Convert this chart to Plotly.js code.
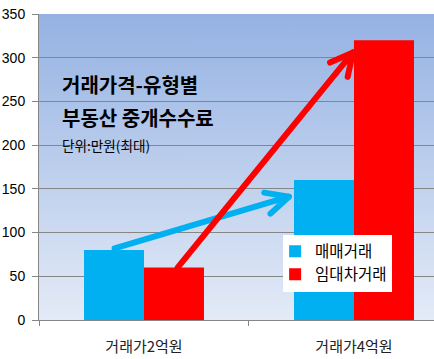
<!DOCTYPE html>
<html>
<head>
<meta charset="utf-8">
<script src="https://cdn.plot.ly/plotly-3.0.1.min.js"></script>
<style>html,body{margin:0;padding:0;background:#fff;}#chart{width:434px;height:359px;}</style>
</head>
<body>
<div id="chart"></div>
<script>
// ---- data ----
const categories = ['거래가2억원', '거래가4억원'];
const seriesNames = ['매매거래', '임대차거래'];
const saleValues = [80, 160];
const leaseValues = [60, 320];
const yTicks = [0, 50, 100, 150, 200, 250, 300, 350];
// arrow endpoints (category-index x, value y): [tail, tip]
const saleArrowX = [-0.14, 0.69];
const saleArrowY = [82, 141];
const leaseArrowX = [0.16, 0.995];
const leaseArrowY = [60, 306];

// ---- layout constants ----
const W = 434, H = 359;
const M = {l: 39, r: 0, t: 14, b: 39};
const xr = [-0.5, 1.381];
const yr = [0, 350];
const font = '"Noto Sans CJK KR", sans-serif';

// gradient background image
const cv = document.createElement('canvas');
cv.width = 4; cv.height = 256;
const cx = cv.getContext('2d');
const g = cx.createLinearGradient(0, 0, 0, 256);
g.addColorStop(0, '#95B2E3');
g.addColorStop(1, '#E4EBF7');
cx.fillStyle = g; cx.fillRect(0, 0, 4, 256);
const bgURL = cv.toDataURL('image/png');

// build arrow polyline (shaft + open chevron) in data units using axis scales
const pxX = (W - M.l - M.r) / (xr[1] - xr[0]);
const pxY = (H - M.t - M.b) / (yr[1] - yr[0]);
function arrowPath(xs, ys, armLen, halfAngleDeg) {
  const dxp = (xs[0] - xs[1]) * pxX, dyp = (ys[0] - ys[1]) * pxY; // back direction (px, y up)
  const ang = Math.atan2(dyp, dxp);
  const h = halfAngleDeg * Math.PI / 180;
  const arm = s => [xs[1] + Math.cos(ang + s * h) * armLen / pxX, ys[1] + Math.sin(ang + s * h) * armLen / pxY];
  const a1 = arm(1), a2 = arm(-1);
  return {x: [xs[0], xs[1], a1[0], null, xs[1], a2[0]], y: [ys[0], ys[1], a1[1], null, ys[1], a2[1]]};
}
const saleArrow = arrowPath(saleArrowX, saleArrowY, 25, 26);
const leaseArrow = arrowPath(leaseArrowX, leaseArrowY, 25, 27);

const traces = [
  {type: 'bar', name: seriesNames[0], x: categories, y: saleValues, marker: {color: '#00B0F0'}, hoverinfo: 'none'},
  {type: 'bar', name: seriesNames[1], x: categories, y: leaseValues, marker: {color: '#FF0000'}, hoverinfo: 'none'},
  {type: 'scatter', mode: 'lines', xaxis: 'x2', x: saleArrow.x, y: saleArrow.y, connectgaps: false,
   showlegend: false, hoverinfo: 'none', line: {color: '#00B0F0', width: 6}, cliponaxis: false},
  {type: 'scatter', mode: 'lines', xaxis: 'x2', x: leaseArrow.x, y: leaseArrow.y, connectgaps: false,
   showlegend: false, hoverinfo: 'none', line: {color: '#FF0000', width: 6}, cliponaxis: false}
];

const layout = {
  width: W, height: H,
  margin: M,
  paper_bgcolor: '#ffffff',
  plot_bgcolor: 'rgba(0,0,0,0)',
  barmode: 'group',
  bargap: 0.4286,
  bargroupgap: 0,
  showlegend: true,
  legend: {
    x: 0.618, y: 0.279, xanchor: 'left', yanchor: 'top',
    bgcolor: '#ffffff', borderwidth: 0,
    font: {family: font, size: 15.5, color: '#000'},
    itemwidth: 30, tracegroupgap: 0, indentation: -8
  },
  xaxis: {
    type: 'category', range: xr, showgrid: false,
    showline: true, linecolor: '#868686', linewidth: 1,
    ticks: 'outside', tickson: 'boundaries', ticklen: 5, tickcolor: '#868686', ticklabelstandoff: 13,
    tickfont: {family: font, size: 15, color: '#222'},
    fixedrange: true
  },
  xaxis2: {overlaying: 'x', range: xr, visible: false, fixedrange: true},
  yaxis: {
    range: yr, tickvals: yTicks, ticktext: yTicks.map(String),
    showgrid: true, gridcolor: '#868686', gridwidth: 1,
    showline: true, linecolor: '#868686', linewidth: 1,
    ticks: 'outside', ticklen: 6, tickcolor: '#868686', ticklabelstandoff: 4,
    tickfont: {family: 'Liberation Sans, Arial, sans-serif', size: 14, color: '#000'},
    zeroline: false, fixedrange: true
  },
  images: [{source: bgURL, xref: 'paper', yref: 'paper', x: 0, y: 1, sizex: 1, sizey: 1,
            xanchor: 'left', yanchor: 'top', sizing: 'stretch', layer: 'below'}],
  annotations: [
    {text: '<b>거래가격-유형별</b>', xref: 'paper', yref: 'paper', x: 0.053, y: 0.768, xanchor: 'left', yanchor: 'middle',
     showarrow: false, font: {family: font, size: 20, color: '#000'}},
    {text: '<b>부동산 중개수수료</b>', xref: 'paper', yref: 'paper', x: 0.053, y: 0.663, xanchor: 'left', yanchor: 'middle',
     showarrow: false, font: {family: font, size: 20, color: '#000'}},
    {text: '단위:만원(최대)', xref: 'paper', yref: 'paper', x: 0.053, y: 0.572, xanchor: 'left', yanchor: 'middle',
     showarrow: false, font: {family: font, size: 13.6, color: '#000'}}
  ]
};

Plotly.newPlot('chart', traces, layout, {displayModeBar: false, staticPlot: true}).then(gd => {
  gd.querySelectorAll('.scatterlayer path.js-line').forEach(p => {
    p.style.strokeLinecap = 'round';
    p.style.strokeLinejoin = 'round';
  });
});
</script>
</body>
</html>
